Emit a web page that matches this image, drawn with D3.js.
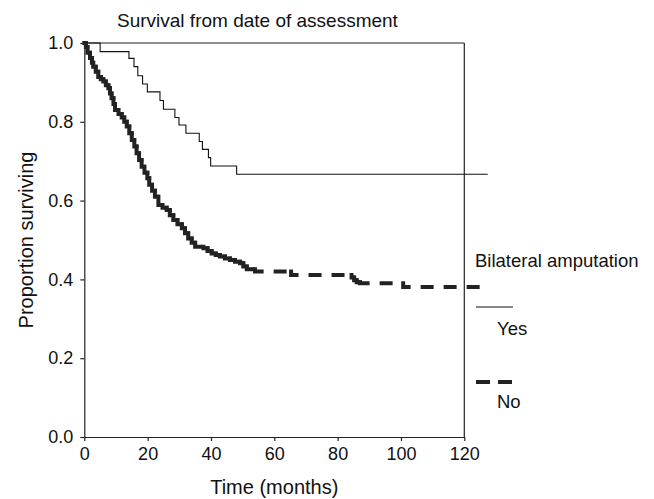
<!doctype html>
<html>
<head>
    <meta charset="utf-8">
    <style>
        body {
            margin: 0;
            background: #fff;
            font-family: 'Liberation Sans', Arial, sans-serif;
        }

        text {
            fill: #111;
        }

        .axis path,
        .axis line {
            stroke: #222;
            stroke-width: 1.2;
        }

        .axis text {
            font-size: 18px;
            font-family: 'Liberation Sans', Arial, sans-serif;
            fill: #111;
        }

        text.title {
            font-size: 19px;
        }

        text.label {
            font-size: 20px;
        }

        text.legend {
            font-size: 18.5px;
        }

        line.frame {
            stroke: #222;
            stroke-width: 1.2;
        }

        path.yes {
            fill: none;
            stroke: #111;
            stroke-width: 1.1;
        }

        path.no {
            fill: none;
            stroke: #222;
            stroke-width: 4;
            stroke-linecap: square;
            stroke-dasharray: 9 14;
        }
    </style>
    <script src="https://d3js.org/d3.v7.min.js"></script>
</head>
<body>
<svg width="654" height="499"></svg>
<script>
    // bilateral amputation = yes : drop times (months) and survival after each drop
    const yesTimes = [0, 5, 14.1, 15.7, 16.9, 18.4, 19.9, 23.9, 25, 28.6, 29.9, 32.1, 36.3, 37.3, 39.2, 39.9, 48.1]
    const yesSurv = [1.0, 0.978, 0.961, 0.940, 0.917, 0.896, 0.876, 0.854, 0.832, 0.811, 0.792, 0.771, 0.750, 0.730, 0.709, 0.688, 0.667]
    const yesEnd = 127.4

    // bilateral amputation = no
    const noTimes = [0, 0.5, 1.0, 1.8, 2.4, 2.8, 3.6, 4.4, 5.2, 6.0, 6.8, 7.6, 8.1, 8.6, 9.2, 9.7, 10.8, 11.8,
        12.6, 13.4, 14.2, 15.0, 15.8, 16.5, 17.3, 18.1, 19.0, 19.9, 20.5, 21.4, 22.3, 23.4, 24.7, 26.0,
        27.0, 28.1, 29.4, 30.8, 31.8, 32.8, 33.9, 35.0, 37.6, 38.9, 40.2, 41.5, 42.8, 44.4, 46.0, 47.6,
        49.2, 50.2, 51.3, 53.9, 65.3, 84.4, 85.2, 86.0, 87.0, 100.7]
    const noSurv = [1.0, 0.99, 0.975, 0.962, 0.95, 0.940, 0.927, 0.914, 0.908, 0.902, 0.893, 0.885, 0.872, 0.860, 0.845, 0.830, 0.820, 0.811,
        0.800, 0.788, 0.771, 0.754, 0.737, 0.720, 0.703, 0.686, 0.671, 0.657, 0.640, 0.625, 0.610, 0.589, 0.582, 0.576,
        0.563, 0.551, 0.540, 0.530, 0.517, 0.504, 0.493, 0.483, 0.479, 0.472, 0.466, 0.462, 0.458, 0.453, 0.449, 0.445,
        0.441, 0.433, 0.426, 0.420, 0.411, 0.405, 0.398, 0.393, 0.390, 0.381]
    const noEnd = 126.8

    const xTicks = [0, 20, 40, 60, 80, 100, 120]
    const yTicks = [0, 0.2, 0.4, 0.6, 0.8, 1.0]

    const svg = d3.select('svg')

    const x = d3.scaleLinear()
        .domain([0, 120])
        .range([84.3, 464.3])

    const y = d3.scaleLinear()
        .domain([0, 1])
        .range([437, 43])

    // axes
    svg.append('g')
        .attr('class', 'axis')
        .attr('transform', `translate(0, ${y(0)})`)
        .call(d3.axisBottom(x).tickValues(xTicks).tickSize(4).tickPadding(6).tickSizeOuter(0))

    svg.append('g')
        .attr('class', 'axis')
        .attr('transform', `translate(${x(0)}, 0)`)
        .call(d3.axisLeft(y).tickValues(yTicks).tickFormat(d3.format('.1f')).tickSize(4).tickPadding(7).tickSizeOuter(0))

    // top and right frame
    svg.append('line').attr('class', 'frame')
        .attr('x1', x(0)).attr('x2', x(120))
        .attr('y1', y(1)).attr('y2', y(1))
    svg.append('line').attr('class', 'frame')
        .attr('x1', x(120)).attr('x2', x(120))
        .attr('y1', y(1)).attr('y2', y(0))

    // yes curve: one step path
    const yesPts = yesTimes.map((t, i) => [t, yesSurv[i]])
    yesPts.push([yesEnd, yesSurv[yesSurv.length - 1]])

    svg.append('path')
        .attr('class', 'yes')
        .attr('d', d3.line().x(d => x(d[0])).y(d => y(d[1])).curve(d3.curveStepAfter)(yesPts))

    // no curve: one path per step so the dash restarts at each drop
    const noSegs = noTimes.map((t, i) => ({
        t0: t,
        t1: i < noTimes.length - 1 ? noTimes[i + 1] : noEnd,
        prev: i > 0 ? noSurv[i - 1] : noSurv[0],
        s: noSurv[i]
    }))

    svg.selectAll('path.no')
        .data(noSegs)
        .enter()
        .append('path')
        .attr('class', 'no')
        .attr('d', d => `M${x(d.t0)},${y(d.prev)}V${y(d.s)}H${x(d.t1)}`)

    // titles
    svg.append('text')
        .attr('class', 'title')
        .attr('x', 117)
        .attr('y', 27)
        .text('Survival from date of assessment')

    svg.append('text')
        .attr('class', 'label')
        .attr('x', (x(0) + x(120)) / 2)
        .attr('y', 494)
        .attr('text-anchor', 'middle')
        .text('Time (months)')

    svg.append('text')
        .attr('class', 'label')
        .attr('transform', `translate(33, ${(y(0) + y(1)) / 2}) rotate(-90)`)
        .attr('text-anchor', 'middle')
        .text('Proportion surviving')

    // legend
    svg.append('text')
        .attr('class', 'legend')
        .attr('x', 475)
        .attr('y', 267)
        .text('Bilateral amputation')

    svg.append('line')
        .attr('x1', 476).attr('x2', 513)
        .attr('y1', 307).attr('y2', 307)
        .attr('stroke', '#111')
        .attr('stroke-width', 1.1)

    svg.append('text')
        .attr('class', 'legend')
        .attr('x', 497)
        .attr('y', 335)
        .text('Yes')

    svg.append('line')
        .attr('x1', 476).attr('x2', 513)
        .attr('y1', 382).attr('y2', 382)
        .attr('stroke', '#222')
        .attr('stroke-width', 4)
        .attr('stroke-dasharray', '14 8')

    svg.append('text')
        .attr('class', 'legend')
        .attr('x', 497)
        .attr('y', 408)
        .text('No')
</script>
</body>
</html>
